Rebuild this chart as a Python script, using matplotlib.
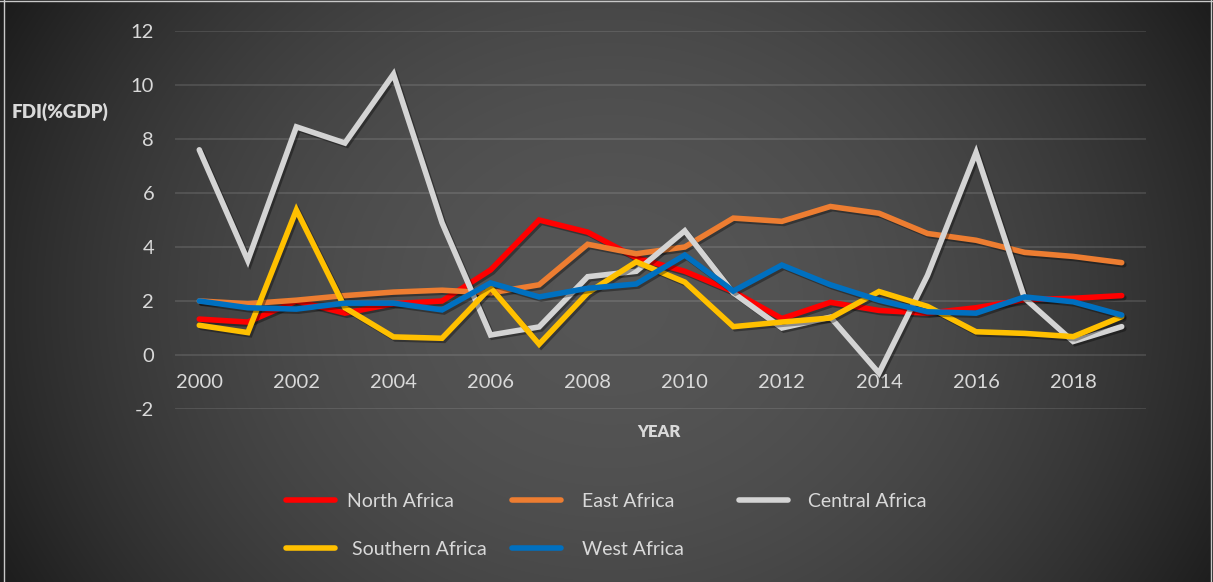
import numpy as np
import matplotlib

matplotlib.use("Agg")

import matplotlib.pyplot as plt
from matplotlib import patheffects as pe
from matplotlib.lines import Line2D

# FDI net inflows (% of GDP) by African region
years = list(range(2000, 2020))
north_africa = [1.33, 1.22, 2.0, 1.55, 1.9, 2.0, 3.15, 5.0, 4.55, 3.6,
                3.1, 2.35, 1.35, 1.95, 1.65, 1.55, 1.75, 2.05, 2.1, 2.2]
east_africa = [2.0, 1.9, 2.03, 2.2, 2.33, 2.4, 2.3, 2.6, 4.1, 3.75,
               4.0, 5.07, 4.95, 5.5, 5.25, 4.5, 4.25, 3.8, 3.65, 3.42]
central_africa = [7.6, 3.5, 8.45, 7.85, 10.4, 4.9, 0.74, 1.04, 2.9, 3.1,
                  4.6, 2.3, 1.0, 1.4, -0.67, 2.95, 7.5, 2.1, 0.5, 1.05]
southern_africa = [1.1, 0.83, 5.37, 1.75, 0.67, 0.62, 2.5, 0.4, 2.3, 3.45,
                   2.7, 1.05, 1.22, 1.37, 2.35, 1.8, 0.86, 0.8, 0.68, 1.42]
west_africa = [2.0, 1.75, 1.7, 1.92, 1.92, 1.67, 2.67, 2.15, 2.47, 2.63,
               3.7, 2.37, 3.33, 2.6, 2.03, 1.6, 1.55, 2.15, 1.97, 1.48]

series_names = ["North Africa", "East Africa", "Central Africa", " Southern Africa", "West Africa"]
series_values = [north_africa, east_africa, central_africa, southern_africa, west_africa]
series_colors = ["#ff0000", "#ed7d31", "#d4d4d4", "#ffc000", "#0070c0"]

xticks = list(range(2000, 2019, 2))
yticks = list(range(-2, 13, 2))

TEXT = "#d9d9d9"
W, H = 1213, 582

plt.rcParams["font.family"] = ["Lato", "DejaVu Sans"]
plt.rcParams["axes.unicode_minus"] = False

fig = plt.figure(figsize=(W / 100, H / 100), dpi=100)

# dark radial background
bg = fig.add_axes([0, 0, 1, 1], zorder=-10)
yy, xx = np.mgrid[0:H, 0:W]
r = np.sqrt(((xx - 610) / 620.0) ** 2 + ((yy - 300) / 540.0) ** 2)
shade = 0.335 - 0.18 * np.clip(r, 0, 1.15) ** 2
bg.imshow(np.dstack([shade] * 3), aspect="auto", interpolation="bilinear")
bg.axis("off")
for xs, ys in [((0, 1), (0.999, 0.999)), ((0.003, 0.003), (0, 1)), ((0.998, 0.998), (0, 1))]:
    fig.add_artist(Line2D(xs, ys, transform=fig.transFigure, color="#c8c8c8", lw=1))

ax = fig.add_axes([175 / W, 1 - 409 / H, (1146 - 175) / W, (409 - 31) / H])
ax.set_facecolor("none")

shadow = [pe.SimpleLineShadow(offset=(1.5, -1.5), shadow_color="black", alpha=0.35), pe.Normal()]
handles = []
for name, vals, col in zip(series_names, series_values, series_colors):
    ln, = ax.plot(years, vals, color=col, lw=4, solid_capstyle="round",
                  solid_joinstyle="miter", label=name, path_effects=shadow)
    handles.append(ln)

ax.set_xlim(1999.5, 2019.5)
ax.set_ylim(-2, 12)
ax.set_xticks(xticks)
ax.set_yticks(yticks)
ax.grid(axis="y", color="white", alpha=0.13, lw=1.2)
ax.set_axisbelow(True)
for s in ax.spines.values():
    s.set_visible(False)
ax.spines["bottom"].set_position(("data", 0))
ax.tick_params(axis="x", length=0, pad=14, labelsize=14.5, labelcolor=TEXT)
ax.tick_params(axis="y", length=0, pad=15, labelsize=14.5, labelcolor=TEXT)

fig.text(12 / W, 1 - 112 / H, "FDI(%GDP)", ha="left", va="center",
         fontsize=13.5, fontweight="heavy", color=TEXT)
fig.text(659 / W, 1 - 432 / H, "YEAR", ha="center", va="center",
         fontsize=12, fontweight="heavy", color=TEXT)

# legend laid out row-wise in three fixed-width columns, like the original
columns = [[0, 3], [1, 4], [2]]
col_x = [286, 512, 739]
text_pad = [0.65, 1.1, 1.05]
for idx, x, tp in zip(columns, col_x, text_pad):
    leg = fig.legend([handles[i] for i in idx], [series_names[i] for i in idx],
                     loc="upper left", bbox_to_anchor=(x / W, 1 - 493 / H),
                     frameon=False, borderpad=0, borderaxespad=0,
                     handlelength=2.5, handletextpad=tp, labelspacing=1.6,
                     fontsize=14, labelcolor=TEXT)
    for lh in leg.legend_handles:
        lh.set_linewidth(4)
        lh.set_path_effects([])

fig.savefig("out.png", dpi=100)
